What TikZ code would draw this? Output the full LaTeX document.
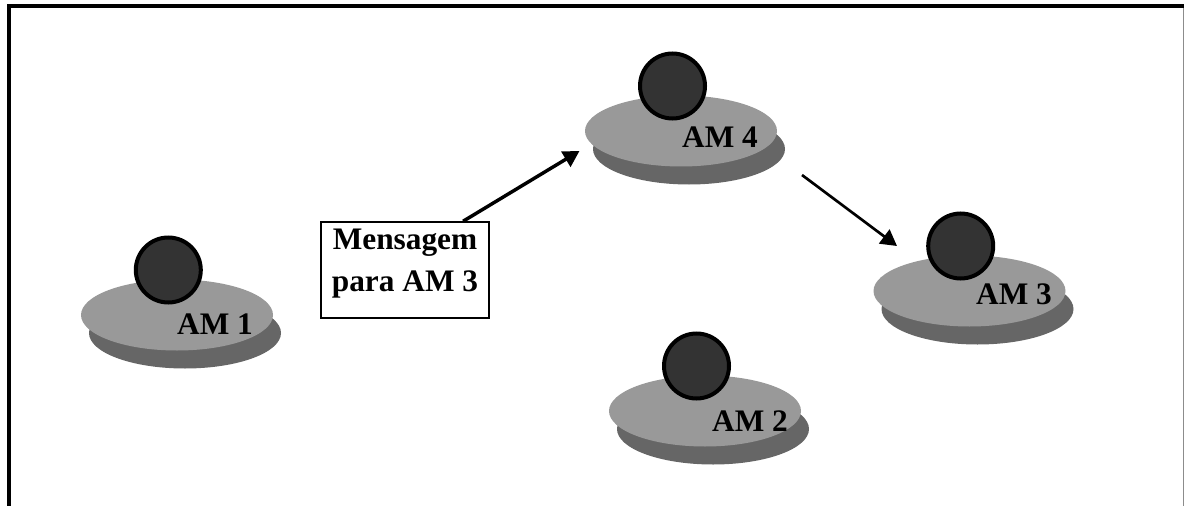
\documentclass[tikz,border=0pt]{standalone}
\usepackage{fontspec}
\setmainfont{Liberation Serif}
\usetikzlibrary{arrows.meta,shapes.geometric}
\definecolor{platecol}{HTML}{999999}
\definecolor{shadowcol}{HTML}{666666}
\definecolor{agentcol}{HTML}{333333}
\tikzset{
  amshadow/.style={ellipse,fill=shadowcol,inner sep=0pt,minimum width=144pt,minimum height=53.25pt},
  amplate/.style={ellipse,fill=platecol,inner sep=0pt,minimum width=144pt,minimum height=53.25pt},
  amagent/.style={circle,draw=black,line width=3pt,fill=agentcol,inner sep=0pt,minimum size=48.75pt},
  amlabel/.style={anchor=base,inner sep=0pt,font=\fontsize{23.5}{31}\selectfont\bfseries},
  msgbox/.style={draw=black,line width=1.1pt,fill=white,align=center,inner xsep=0pt,inner ysep=0pt,minimum width=126pt,minimum height=72pt,font=\fontsize{23.5}{31.5}\selectfont\bfseries},
  msgarrow/.style={-{Triangle[length=12pt,width=13pt]},line width=2pt}
}
\begin{document}
\begin{tikzpicture}[x=.75pt,y=-.75pt]
  \useasboundingbox (0,0) rectangle (1184,506);
  \draw[line width=3.2pt,black] (9,506) -- (9,6.3) -- (1184,6.3);
  \draw[line width=.75pt,black!45] (1183.5,8) -- (1183.5,506);
  \draw
  (185,333) node[amshadow] (am1shadow) {}
  (177,315) node[amplate] (am1plate) {}
  (168.3,270) node[amagent] (am1agent) {}
  (215,334) node[amlabel] (am1) {AM 1}
  (689,149) node[amshadow] (am4shadow) {}
  (681,131) node[amplate] (am4plate) {}
  (672.5,86) node[amagent] (am4agent) {}
  (720,147) node[amlabel] (am4) {AM 4}
  (977.5,309) node[amshadow] (am3shadow) {}
  (969.5,291) node[amplate] (am3plate) {}
  (960.7,246) node[amagent] (am3agent) {}
  (1014,304) node[amlabel] (am3) {AM 3}
  (713,429) node[amshadow] (am2shadow) {}
  (705,411) node[amplate] (am2plate) {}
  (696.5,366) node[amagent] (am2agent) {}
  (750,431) node[amlabel] (am2) {AM 2}
  (405,270) node[msgbox,text depth=15pt] (msg) {Mensagem\\para AM 3}
  ;
  \coordinate (am4in) at (579.5,151);
  \coordinate (am4out) at (802,175);
  \coordinate (am3in) at (897,246);
  \draw[msgarrow,line width=2.6pt] (msg.40.6) -- (am4in);
  \draw[msgarrow] (am4out) -- (am3in);
\end{tikzpicture}
\end{document}
